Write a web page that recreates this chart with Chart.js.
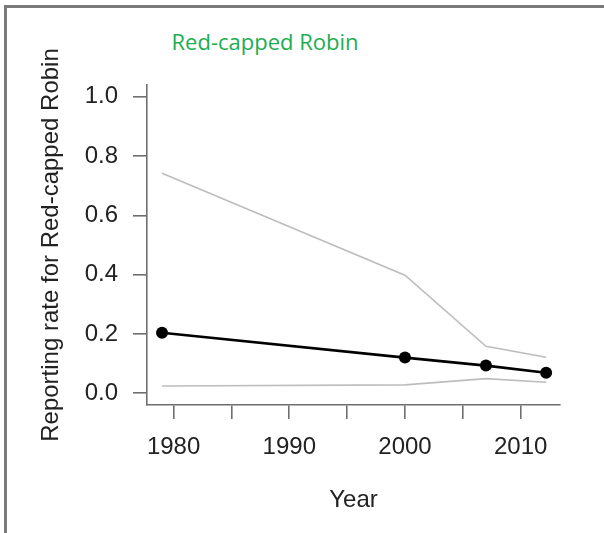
<!DOCTYPE html>
<html>
<head>
<meta charset="utf-8">
<title>Red-capped Robin</title>
<script src="https://cdn.jsdelivr.net/npm/chart.js@4/dist/chart.umd.min.js"></script>
<style>
    html, body { margin: 0; padding: 0; background: #fff; }
    #wrap { position: relative; width: 604px; height: 533px; overflow: hidden; }
    #frame {
        position: absolute; left: 4px; top: 5px; width: 620px; height: 525px;
        border-top: 3px solid #7a7a7a; border-left: 3px solid #7a7a7a;
        border-bottom: 1px solid #ebebeb;
    }
    #title {
        position: absolute; left: 265px; top: 30px; transform: translateX(-50%);
        font-family: "Open Sans", sans-serif; font-size: 22px; line-height: 22px;
        color: #1cad52; white-space: nowrap;
    }
    canvas { position: absolute; left: 0; top: 0; }
</style>
</head>
<body>
<div id="wrap">
    <div id="frame"></div>
    <div id="title">Red-capped Robin</div>
    <canvas id="chart" width="604" height="533"></canvas>
</div>
<script>
// values
var years = [1979, 2000, 2007, 2012.2];
var meanRate = [0.204, 0.120, 0.093, 0.069];
var upperRate = [0.742, 0.398, 0.158, 0.121];
var lowerRate = [0.024, 0.028, 0.049, 0.037];

var xTicks = [1980, 1985, 1990, 1995, 2000, 2005, 2010];
var xLabelled = [1980, 1990, 2000, 2010];
var yTicks = [0, 0.2, 0.4, 0.6, 0.8, 1.0];

function points(ys) {
    return years.map(function(x, i) { return { x: x, y: ys[i] }; });
}

var axisColor = '#6f6f6f';
var textColor = '#222';
var font24 = { family: '"Liberation Sans", Arial, sans-serif', size: 24 };

new Chart(document.getElementById('chart'), {
    type: 'line',
    data: {
        datasets: [{
            label: 'upper',
            data: points(upperRate),
            borderColor: '#bdbdbd',
            borderWidth: 1.6,
            pointRadius: 0,
            tension: 0,
        }, {
            label: 'lower',
            data: points(lowerRate),
            borderColor: '#bdbdbd',
            borderWidth: 1.6,
            pointRadius: 0,
            tension: 0,
        }, {
            label: 'Reporting rate',
            data: points(meanRate),
            borderColor: '#000',
            backgroundColor: '#000',
            borderWidth: 2.6,
            pointRadius: 6,
            pointBackgroundColor: '#000',
            pointBorderWidth: 0,
            tension: 0,
        }]
    },
    options: {
        responsive: false,
        animation: false,
        devicePixelRatio: 1,
        layout: { padding: { left: 0, top: 85, right: 44, bottom: 0 } },
        plugins: {
            legend: { display: false },
            tooltip: { enabled: false },
            title: { display: false },
        },
        scales: {
            x: {
                type: 'linear',
                min: 1977.7,
                max: 2013.4,
                afterBuildTicks: function(s) {
                    s.ticks = xTicks.map(function(v) { return { value: v }; });
                },
                afterFit: function(s) { s.height = 128; },
                grid: {
                    drawOnChartArea: false,
                    drawTicks: true,
                    tickLength: 14,
                    color: axisColor,
                    lineWidth: 1.6,
                },
                border: { display: true, color: axisColor, width: 1.6 },
                ticks: {
                    autoSkip: false,
                    maxRotation: 0,
                    padding: 14,
                    color: textColor,
                    font: font24,
                    callback: function(v) {
                        return xLabelled.indexOf(v) >= 0 ? String(v) : '';
                    }
                },
                title: {
                    display: true,
                    text: 'Year',
                    color: textColor,
                    font: font24,
                    padding: { top: 0, bottom: 18 },
                }
            },
            y: {
                min: -0.04,
                max: 1.04,
                afterBuildTicks: function(s) {
                    s.ticks = yTicks.map(function(v) { return { value: v }; });
                },
                afterFit: function(s) { s.width = 147; },
                grid: {
                    drawOnChartArea: false,
                    drawTicks: true,
                    tickLength: 14,
                    color: axisColor,
                    lineWidth: 1.6,
                },
                border: { display: true, color: axisColor, width: 1.6 },
                ticks: {
                    padding: 15,
                    color: textColor,
                    font: font24,
                    callback: function(v) { return v.toFixed(1); }
                },
                title: {
                    display: true,
                    text: 'Reporting rate for Red-capped Robin',
                    color: textColor,
                    font: font24,
                    padding: { top: 37, bottom: 0 },
                }
            }
        }
    }
});
</script>
</body>
</html>
